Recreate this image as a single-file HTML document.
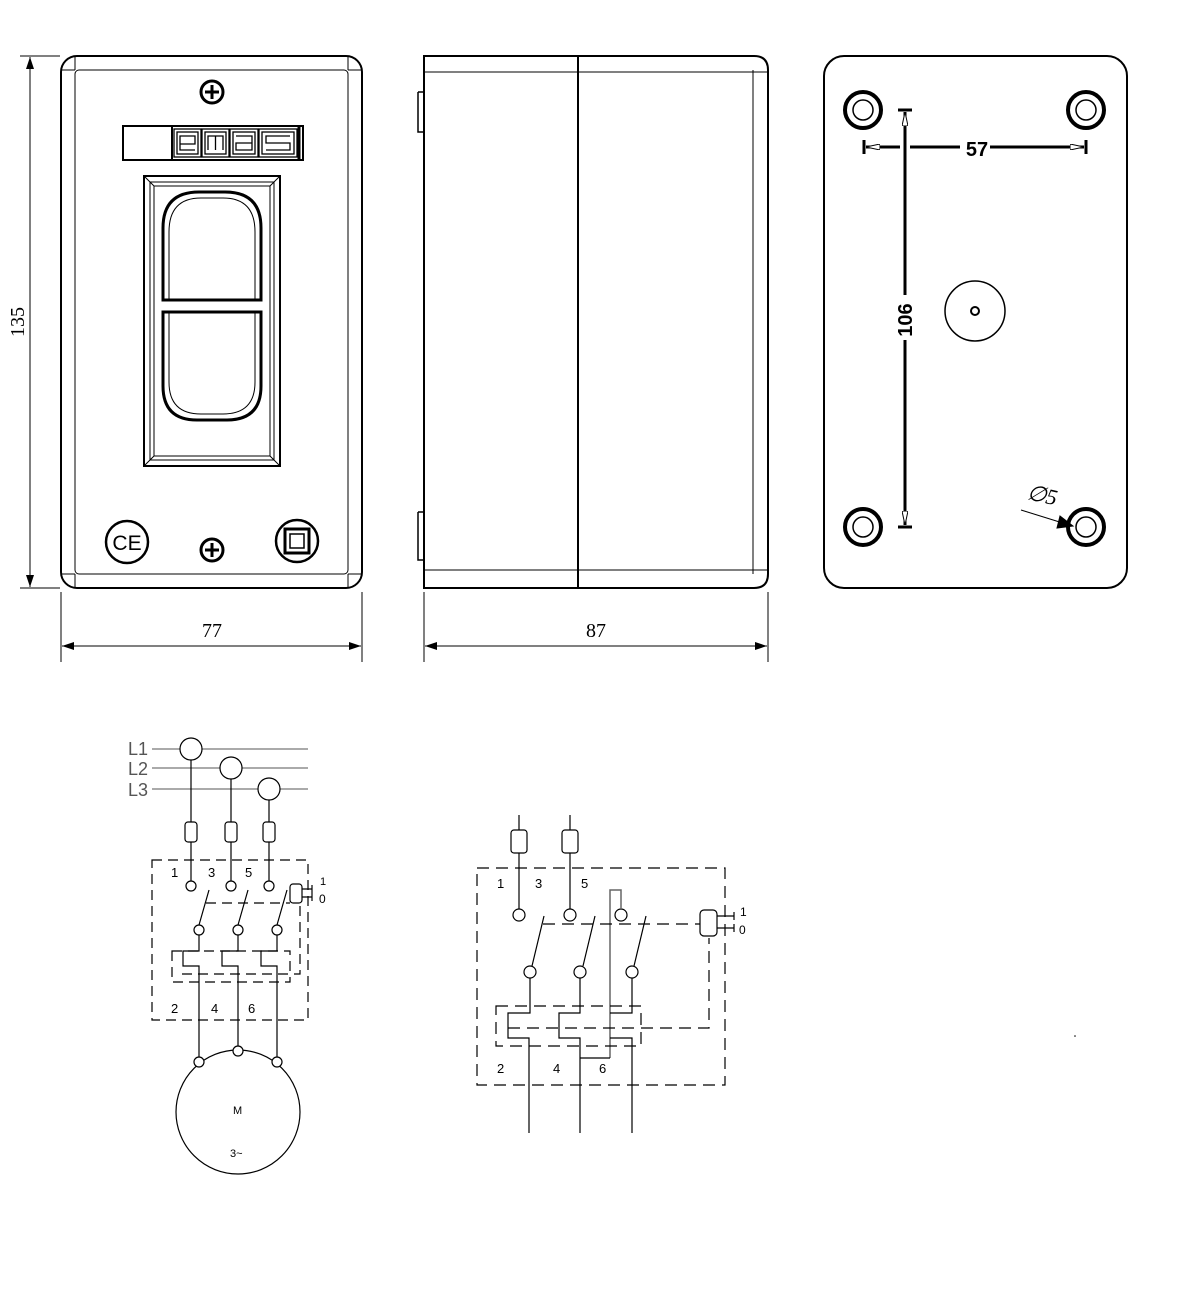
<!DOCTYPE html>
<html><head><meta charset="utf-8"><style>html,body{margin:0;padding:0;background:#fff}svg{display:block}</style></head><body>
<svg width="1188" height="1289" viewBox="0 0 1188 1289" xmlns="http://www.w3.org/2000/svg" font-family="Liberation Sans, sans-serif">
<defs>
<marker id="ar" markerWidth="12" markerHeight="8" refX="12" refY="4" orient="auto" markerUnits="userSpaceOnUse"><path d="M0,0 L12,4 L0,8 z" fill="#000"/></marker>
<marker id="ao" markerWidth="14" markerHeight="6" refX="14" refY="3" orient="auto" markerUnits="userSpaceOnUse"><path d="M0,0 L14,3 L0,6 z" fill="#fff" stroke="#000" stroke-width="1"/></marker>
</defs>
<g fill="none" stroke="#000">
<!-- FRONT VIEW -->
<rect x="61" y="56" width="301" height="532" rx="16" stroke-width="2"/>
<rect x="75" y="70" width="273" height="504" rx="4" stroke-width="1"/>
<path d="M61,70 H75 M348,70 H362 M61,574 H75 M348,574 H362 M75,56 V70 M348,56 V70 M75,574 V588 M348,574 V588" stroke-width="1"/>
<circle cx="212" cy="92" r="11" stroke-width="3"/>
<path d="M205,92 H219 M212,85 V99" stroke-width="3"/>
<circle cx="212" cy="550" r="11" stroke-width="3"/>
<path d="M205,550 H219 M212,543 V557" stroke-width="3"/>
<rect x="123" y="126" width="180" height="34" stroke-width="2"/>
<line x1="172" y1="126" x2="172" y2="160" stroke-width="2"/>
<g stroke="#000" stroke-width="1.3">
<rect x="174" y="129" width="27" height="28"/><rect x="177" y="132" width="21" height="22"/><path d="M180,144 H195 V136 H180 V150 H195"/>
<rect x="202" y="129" width="27" height="28"/><rect x="205" y="132" width="21" height="22"/><path d="M208,150 V136 H223 V150 M215.5,136 V150"/>
<rect x="230" y="129" width="28" height="28"/><rect x="233" y="132" width="22" height="22"/><path d="M236,136 H252 V150 H236 V143 H252"/>
<rect x="259" y="129" width="38" height="28"/><rect x="262" y="132" width="32" height="22"/><path d="M290,136 H266 V143 H290 V150 H266"/>
<line x1="299" y1="127" x2="299" y2="159" stroke-width="3"/>
</g>
<rect x="144" y="176" width="136" height="290" stroke-width="2"/>
<rect x="150" y="182" width="124" height="278" stroke-width="1"/>
<rect x="154" y="186" width="116" height="270" stroke-width="1"/>
<path d="M144,176 L154,186 M280,176 L270,186 M144,466 L154,456 M280,466 L270,456" stroke-width="1"/>
<path d="M163,300 V228 Q163,192 199,192 H225 Q261,192 261,228 V300 Z" stroke-width="3"/>
<path d="M169,300 V232 Q169,198 201,198 H223 Q255,198 255,232 V300" stroke-width="1"/>
<path d="M163,312 V386 Q163,420 197,420 H227 Q261,420 261,386 V312 Z" stroke-width="3"/>
<path d="M169,312 V382 Q169,414 201,414 H223 Q255,414 255,382 V312" stroke-width="1"/>
<circle cx="127" cy="542" r="21" stroke-width="2.5"/>
<text x="127" y="550" font-size="21" fill="#000" stroke="none" text-anchor="middle" font-family="Liberation Sans">CE</text>
<circle cx="297" cy="541" r="21" stroke-width="2.5"/>
<rect x="285" y="529" width="24" height="24" stroke-width="3"/>
<rect x="290" y="534" width="14" height="14" stroke-width="1.5"/>
<!-- dims front -->
<path d="M20,56 H60 M20,588 H60" stroke-width="1"/>
<line x1="30" y1="300" x2="30" y2="57" stroke-width="1" marker-end="url(#ar)"/>
<line x1="30" y1="300" x2="30" y2="587" stroke-width="1" marker-end="url(#ar)"/>
<path d="M61,592 V662 M362,592 V662 M424,592 V662 M768,592 V662" stroke-width="1"/>
<line x1="212" y1="646" x2="62" y2="646" stroke-width="1" marker-end="url(#ar)"/>
<line x1="212" y1="646" x2="361" y2="646" stroke-width="1" marker-end="url(#ar)"/>
<line x1="596" y1="646" x2="425" y2="646" stroke-width="1" marker-end="url(#ar)"/>
<line x1="596" y1="646" x2="767" y2="646" stroke-width="1" marker-end="url(#ar)"/>
<!-- SIDE VIEW -->
<path d="M424,56 H754 Q768,56 768,70 V574 Q768,588 754,588 H424 Z" stroke-width="2"/>
<path d="M753,70 V574 M424,72 H768 M424,570 H768" stroke-width="1"/>
<path d="M578,56 V588" stroke-width="2"/>
<path d="M418,92 H424 M418,92 V132 H424 M418,512 H424 M418,512 V560 H424" stroke-width="1.5"/>
<!-- BACK VIEW -->
<rect x="824" y="56" width="303" height="532" rx="20" stroke-width="2"/>
<g stroke-width="4"><circle cx="863" cy="110" r="18"/><circle cx="1086" cy="110" r="18"/><circle cx="863" cy="527" r="18"/><circle cx="1086" cy="527" r="18"/></g>
<g stroke-width="1.5"><circle cx="863" cy="110" r="10"/><circle cx="1086" cy="110" r="10"/><circle cx="863" cy="527" r="10"/><circle cx="1086" cy="527" r="10"/></g>
<circle cx="975" cy="311" r="30" stroke-width="1.5"/>
<circle cx="975" cy="311" r="4" stroke-width="2"/>
<path d="M898,110 H912 M898,527 H912 M864,140 V154 M1086,140 V154" stroke-width="3"/>
<line x1="905" y1="295" x2="905" y2="112" stroke-width="3" marker-end="url(#ao)"/>
<line x1="905" y1="340" x2="905" y2="525" stroke-width="3" marker-end="url(#ao)"/>
<line x1="900" y1="147" x2="866" y2="147" stroke-width="3" marker-end="url(#ao)"/>
<line x1="910" y1="147" x2="960" y2="147" stroke-width="3"/>
<line x1="990" y1="147" x2="1084" y2="147" stroke-width="3" marker-end="url(#ao)"/>
<line x1="1021" y1="510" x2="1066" y2="524" stroke-width="1"/>
<path d="M1060,516 L1073,526 L1057,528 Z" fill="#000"/>
</g>
<g fill="#000" stroke="none">
<text x="0" y="0" font-family="Liberation Serif, serif" font-size="20" transform="translate(24,322) rotate(-90)" text-anchor="middle">135</text>
<text x="212" y="637" font-family="Liberation Serif, serif" font-size="20" text-anchor="middle">77</text>
<text x="596" y="637" font-family="Liberation Serif, serif" font-size="20" text-anchor="middle">87</text>
<text x="977" y="156" font-size="20" font-weight="bold" text-anchor="middle">57</text>
<text x="0" y="0" font-size="20" font-weight="bold" text-anchor="middle" transform="translate(912,320) rotate(-90)">106</text>
<text x="0" y="0" font-family="Liberation Serif, serif" font-style="italic" font-size="22" transform="translate(1026,499) rotate(12)">∅5</text>
</g>
<!-- SCHEMATIC 1 -->
<g fill="none" stroke="#000" stroke-width="1.2">
<path d="M152,749 H180 M202,749 H308 M152,768 H220 M242,768 H308 M152,789 H258 M280,789 H308" stroke="#777"/>
<circle cx="191" cy="749" r="11"/><circle cx="231" cy="768" r="11"/><circle cx="269" cy="789" r="11"/>
<path d="M191,760 V822 M191,842 V881 M231,779 V822 M231,842 V881 M269,800 V822 M269,842 V881"/>
<rect x="185" y="822" width="12" height="20" rx="3"/><rect x="225" y="822" width="12" height="20" rx="3"/><rect x="263" y="822" width="12" height="20" rx="3"/>
<rect x="152" y="860" width="156" height="160" stroke-dasharray="10,6"/>
<circle cx="191" cy="886" r="5"/><circle cx="231" cy="886" r="5"/><circle cx="269" cy="886" r="5"/>
<path d="M209,890 L199,925 M248,890 L238,925 M287,890 L277,925"/>
<path d="M206,903 H290" stroke-dasharray="10,6"/>
<rect x="290" y="884" width="12" height="19" rx="3"/>
<path d="M302,889 H312 M302,897 H312 M312,885 V893 M312,893 V901"/>
<circle cx="199" cy="930" r="5"/><circle cx="238" cy="930" r="5"/><circle cx="277" cy="930" r="5"/>
<path d="M199,935 V951 H183 V966 H199 V1057 M238,935 V951 H222 V966 H238 V1046 M277,935 V951 H261 V966 H277 V1057"/>
<rect x="172" y="951" width="118" height="31" stroke-dasharray="10,6"/>
<path d="M182,974 H300 V903" stroke-dasharray="10,6"/>
<circle cx="238" cy="1112" r="62"/>
<circle cx="199" cy="1062" r="5" fill="#fff"/><circle cx="238" cy="1051" r="5" fill="#fff"/><circle cx="277" cy="1062" r="5" fill="#fff"/>
</g>
<g fill="#000" font-size="13">
<text x="128" y="755" font-size="18" fill="#555">L1</text>
<text x="128" y="775" font-size="18" fill="#555">L2</text>
<text x="128" y="796" font-size="18" fill="#555">L3</text>
<text x="171" y="877">1</text><text x="208" y="877">3</text><text x="245" y="877">5</text>
<text x="320" y="885" font-size="11">1</text><text x="319" y="903" font-size="12">0</text>
<text x="171" y="1013">2</text><text x="211" y="1013">4</text><text x="248" y="1013">6</text>
<text x="233" y="1114" font-size="11">M</text><text x="230" y="1157" font-size="11">3~</text>
</g>
<!-- SCHEMATIC 2 -->
<g fill="none" stroke="#000" stroke-width="1.2">
<path d="M519,815 V830 M519,853 V909 M570,815 V830 M570,853 V909"/>
<rect x="511" y="830" width="16" height="23" rx="3"/><rect x="562" y="830" width="16" height="23" rx="3"/>
<rect x="477" y="868" width="248" height="217" stroke-dasharray="12,7"/>
<circle cx="519" cy="915" r="6"/><circle cx="570" cy="915" r="6"/><circle cx="621" cy="915" r="6"/>
<path d="M610,1058 V890 H621 V909" stroke="#666" stroke-width="1.5"/>
<path d="M544,916 L532,966 M595,916 L583,966 M646,916 L634,966"/>
<path d="M543,924 H700" stroke-dasharray="12,7"/>
<rect x="700" y="910" width="17" height="26" rx="4"/>
<path d="M717,916 H734 M717,928 H734 M734,912 V920 M734,924 V932"/>
<circle cx="530" cy="972" r="6"/><circle cx="580" cy="972" r="6"/><circle cx="632" cy="972" r="6"/>
<path d="M530,978 V1013 H508 V1038 H529 V1133 M580,978 V1013 H559 V1038 H580 V1133 M632,978 V1013 H610 M610,1038 H632 V1133 M580,1058 H610"/>
<rect x="496" y="1006" width="145" height="40" stroke-dasharray="12,7"/>
<path d="M508,1028 H709 V938" stroke-dasharray="12,7"/>
</g>
<g fill="#000" font-size="13">
<text x="497" y="888">1</text><text x="535" y="888">3</text><text x="581" y="888">5</text>
<text x="740" y="916" font-size="12">1</text><text x="739" y="934" font-size="12">0</text>
<text x="497" y="1073">2</text><text x="553" y="1073">4</text><text x="599" y="1073">6</text>
</g>
<circle cx="1075" cy="1036" r="0.8" fill="#000"/>
</svg>
</body></html>
